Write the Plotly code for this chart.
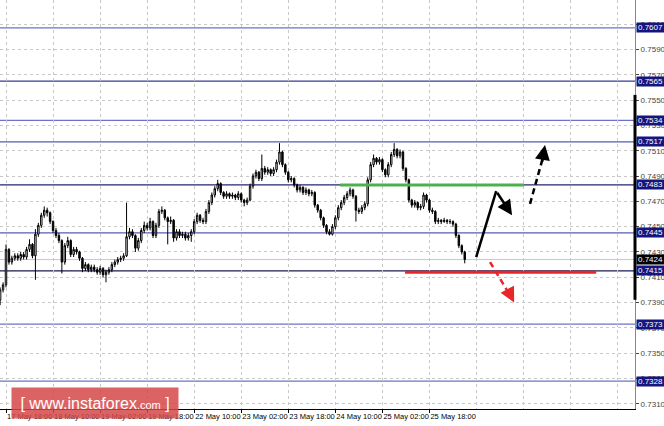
import plotly.graph_objects as go

# ---------------- data ----------------
bar_index = list(range(-2, 157))          # H1 bars, 0 = 17 May 18:00
first_open = 0.7392
closes = [
    0.7400, 0.7404, 0.7432, 0.7422, 0.7425, 0.7427, 0.7425, 0.7428, 0.7426, 0.7432, 0.7436, 0.7427,
    0.7444, 0.7451, 0.7459, 0.7463, 0.7461, 0.7454, 0.7447, 0.7443, 0.7439, 0.7422,
    0.7435, 0.7439, 0.7428, 0.7432, 0.7430, 0.7425, 0.7417, 0.7420, 0.7416, 0.7418,
    0.7416, 0.7414, 0.7417, 0.7412, 0.7414, 0.7416, 0.7420, 0.7422, 0.7424, 0.7425,
    0.7427, 0.7442, 0.7446, 0.7443, 0.7433, 0.7439, 0.7447, 0.7451, 0.7449, 0.7454,
    0.7443, 0.7451, 0.7462, 0.7463, 0.7457, 0.7454, 0.7455, 0.7441, 0.7446, 0.7443,
    0.7444, 0.7441, 0.7443, 0.7446, 0.7454, 0.7459, 0.7455, 0.7454, 0.7462, 0.7469,
    0.7475, 0.7480, 0.7484, 0.7477, 0.7474, 0.7476, 0.7474, 0.7475, 0.7473, 0.7476,
    0.7471, 0.7469, 0.7471, 0.7482, 0.7490, 0.7493, 0.7488, 0.7496, 0.7493, 0.7495,
    0.7492, 0.7495, 0.7501, 0.7509, 0.7499, 0.7493, 0.7487, 0.7488, 0.7483, 0.7479,
    0.7481, 0.7477, 0.7479, 0.7476, 0.7477, 0.7467, 0.7463, 0.7457, 0.7451, 0.7446,
    0.7444, 0.7450, 0.7457, 0.7465, 0.7469, 0.7473, 0.7476, 0.7479, 0.7474, 0.7463,
    0.7462, 0.7465, 0.7468, 0.7487, 0.7499, 0.7504, 0.7501, 0.7503, 0.7495, 0.7491,
    0.7499, 0.7507, 0.7511, 0.7506, 0.7509, 0.7496, 0.7487, 0.7471, 0.7467, 0.7469,
    0.7465, 0.7466, 0.7475, 0.7471, 0.7463, 0.7462, 0.7454, 0.7455, 0.7454, 0.7455,
    0.7454, 0.7454, 0.7452, 0.7443, 0.7435, 0.7430, 0.7424,
]
highs = [
    0.7402, 0.7406, 0.7436, 0.7433, 0.7427, 0.7429, 0.7429, 0.7430, 0.7430, 0.7434, 0.7440, 0.7437,
    0.7448, 0.7453, 0.7461, 0.7466, 0.7465, 0.7462, 0.7455, 0.7449, 0.7445, 0.7440,
    0.7437, 0.7442, 0.7440, 0.7434, 0.7434, 0.7431, 0.7426, 0.7422, 0.7421, 0.7420,
    0.7420, 0.7418, 0.7419, 0.7418, 0.7416, 0.7418, 0.7422, 0.7424, 0.7426, 0.7427,
    0.7429, 0.7469, 0.7449, 0.7448, 0.7444, 0.7441, 0.7449, 0.7454, 0.7453, 0.7457,
    0.7455, 0.7453, 0.7464, 0.7466, 0.7464, 0.7458, 0.7458, 0.7456, 0.7448, 0.7448,
    0.7446, 0.7446, 0.7445, 0.7448, 0.7456, 0.7461, 0.7460, 0.7457, 0.7464, 0.7471,
    0.7477, 0.7482, 0.7487, 0.7485, 0.7478, 0.7478, 0.7477, 0.7477, 0.7476, 0.7478,
    0.7477, 0.7472, 0.7473, 0.7484, 0.7492, 0.7495, 0.7494, 0.7507, 0.7498, 0.7497,
    0.7496, 0.7497, 0.7503, 0.7516, 0.7510, 0.7500, 0.7494, 0.7490, 0.7489, 0.7484,
    0.7483, 0.7482, 0.7481, 0.7480, 0.7479, 0.7478, 0.7468, 0.7464, 0.7458, 0.7452,
    0.7448, 0.7452, 0.7459, 0.7467, 0.7471, 0.7475, 0.7478, 0.7481, 0.7480, 0.7475,
    0.7465, 0.7467, 0.7470, 0.7489, 0.7501, 0.7507, 0.7505, 0.7505, 0.7504, 0.7496,
    0.7501, 0.7509, 0.7516, 0.7512, 0.7511, 0.7510, 0.7497, 0.7488, 0.7472, 0.7471,
    0.7470, 0.7468, 0.7477, 0.7476, 0.7472, 0.7465, 0.7463, 0.7457, 0.7456, 0.7457,
    0.7456, 0.7456, 0.7455, 0.7453, 0.7444, 0.7436, 0.7431,
]
lows = [
    0.7388, 0.7398, 0.7402, 0.7420, 0.7420, 0.7423, 0.7423, 0.7423, 0.7424, 0.7424, 0.7430, 0.7425,
    0.7408, 0.7442, 0.7449, 0.7457, 0.7458, 0.7452, 0.7445, 0.7441, 0.7437, 0.7413,
    0.7420, 0.7433, 0.7426, 0.7426, 0.7428, 0.7423, 0.7414, 0.7415, 0.7414, 0.7414,
    0.7414, 0.7412, 0.7412, 0.7410, 0.7406, 0.7412, 0.7414, 0.7418, 0.7420, 0.7422,
    0.7423, 0.7426, 0.7440, 0.7441, 0.7430, 0.7431, 0.7437, 0.7445, 0.7447, 0.7447,
    0.7441, 0.7441, 0.7449, 0.7460, 0.7455, 0.7436, 0.7452, 0.7438, 0.7439, 0.7441,
    0.7441, 0.7439, 0.7439, 0.7438, 0.7444, 0.7452, 0.7453, 0.7452, 0.7452, 0.7460,
    0.7467, 0.7473, 0.7478, 0.7475, 0.7472, 0.7472, 0.7472, 0.7472, 0.7471, 0.7471,
    0.7469, 0.7466, 0.7467, 0.7470, 0.7480, 0.7488, 0.7486, 0.7486, 0.7491, 0.7491,
    0.7490, 0.7490, 0.7493, 0.7499, 0.7497, 0.7491, 0.7485, 0.7485, 0.7481, 0.7477,
    0.7477, 0.7475, 0.7475, 0.7474, 0.7474, 0.7465, 0.7461, 0.7455, 0.7449, 0.7444,
    0.7443, 0.7443, 0.7448, 0.7455, 0.7463, 0.7467, 0.7471, 0.7474, 0.7472, 0.7454,
    0.7460, 0.7460, 0.7463, 0.7466, 0.7485, 0.7497, 0.7499, 0.7499, 0.7493, 0.7489,
    0.7489, 0.7497, 0.7505, 0.7504, 0.7504, 0.7494, 0.7485, 0.7469, 0.7465, 0.7465,
    0.7463, 0.7463, 0.7464, 0.7469, 0.7461, 0.7460, 0.7452, 0.7452, 0.7452, 0.7453,
    0.7452, 0.7452, 0.7450, 0.7441, 0.7433, 0.7428, 0.7421,
]
opens = [first_open] + closes[:-1]

tick_index = [0, 16, 32, 48, 64, 80, 96, 112, 128, 144]
tick_labels = ["17 May 18:00", "18 May 10:00", "19 May 02:00", "19 May 18:00",
               "22 May 10:00", "23 May 02:00", "23 May 18:00", "24 May 10:00",
               "25 May 02:00", "25 May 18:00"]
extra_grid_index = [160, 176, 192, 208]

price_ticks = [0.7310, 0.7330, 0.7350, 0.7370, 0.7390, 0.7410, 0.7430, 0.7450,
               0.7470, 0.7490, 0.7510, 0.7530, 0.7550, 0.7570, 0.7590, 0.7610]
price_tick_text = ["%.4f" % v for v in price_ticks]

levels = [0.7607, 0.7565, 0.7534, 0.7517, 0.7483, 0.7445, 0.7415, 0.7373, 0.7328]
level_colors = ["#7070c8", "#3a3a9a", "#7070c8", "#5a5ab8", "#24246e",
                "#5a5ab8", "#1a1a50", "#7070c8", "#7070c8"]
current_price = 0.7424

x_range = [-2.04, 213.9]
y_range = [0.73059, 0.76291]

fig = go.Figure()
fig.add_trace(go.Candlestick(
    x=bar_index, open=opens, high=highs, low=lows, close=closes,
    increasing=dict(line=dict(color="#000000", width=1), fillcolor="#ffffff"),
    decreasing=dict(line=dict(color="#000000", width=1), fillcolor="#000000"),
    whiskerwidth=0, hoverinfo="skip", showlegend=False,
))

shapes = []
shapes.append(dict(type="line", xref="paper", x0=0, x1=1, yref="y", y0=current_price, y1=current_price,
                   line=dict(color="#c8c8c8", width=1), layer="below"))
for lv, col in zip(levels, level_colors):
    shapes.append(dict(type="line", xref="paper", x0=0, x1=1, yref="y", y0=lv, y1=lv,
                       line=dict(color=col, width=1.2), layer="below"))
shapes.append(dict(type="line", xref="x", yref="y", x0=113.6, x1=176.2, y0=0.7483, y1=0.7483,
                   line=dict(color="#4cb050", width=3)))
shapes.append(dict(type="line", xref="x", yref="y", x0=135.7, x1=200.7, y0=0.7414, y1=0.7414,
                   line=dict(color="#e8262a", width=3)))
shapes.append(dict(type="line", xref="x", yref="y", x0=159.9, y0=0.7426, x1=166.7, y1=0.7478,
                   line=dict(color="#000000", width=2.5)))
shapes.append(dict(type="line", xref="x", yref="y", x0=178.2, y0=0.7468, x1=182.4, y1=0.7503,
                   line=dict(color="#000000", width=2.5, dash="6px,4px")))
shapes.append(dict(type="line", xref="x", yref="y", x0=164.6, y0=0.7422, x1=170.3, y1=0.7400,
                   line=dict(color="#e8262a", width=2.5, dash="6px,4px")))
shapes.append(dict(type="line", xref="paper", yref="paper", x0=1, x1=1, y0=0.267, y1=0.768,
                   line=dict(color="#000000", width=3)))

annotations = []
annotations.append(dict(x=172.1, y=0.7459, ax=166.7, ay=0.7478, xref="x", yref="y", axref="x", ayref="y",
                        text="", showarrow=True, arrowhead=2, arrowsize=1.2, arrowwidth=2.5, arrowcolor="#000000"))
annotations.append(dict(x=183.3, y=0.75145, ax=182.2, ay=0.7500, xref="x", yref="y", axref="x", ayref="y",
                        text="", showarrow=True, arrowhead=2, arrowsize=1.2, arrowwidth=2.5, arrowcolor="#000000"))
annotations.append(dict(x=172.8, y=0.7390, ax=170.6, ay=0.7400, xref="x", yref="y", axref="x", ayref="y",
                        text="", showarrow=True, arrowhead=2, arrowsize=1.2, arrowwidth=2.5, arrowcolor="#e8262a"))
for lv in levels:
    annotations.append(dict(x=1, xref="paper", xanchor="left", xshift=1, y=lv, yref="y", yanchor="middle",
                            text="%.4f" % lv, showarrow=False, bgcolor="#15157e",
                            font=dict(family="Liberation Sans", size=8, color="#ffffff"),
                            width=27, height=9, borderpad=0))
annotations.append(dict(x=1, xref="paper", xanchor="left", xshift=1, y=current_price, yref="y", yanchor="middle",
                        text="%.4f" % current_price, showarrow=False, bgcolor="#000000",
                        font=dict(family="Liberation Sans", size=8, color="#ffffff"),
                        width=27, height=9, borderpad=0))
annotations.append(dict(x=95 / 635, y=(409 - 403) / 409, xref="paper", yref="paper",
                        text="[ www.instaforex<span style='font-size:11px'>.com</span> ]",
                        showarrow=False, bgcolor="rgba(214,72,72,0.85)",
                        font=dict(family="Liberation Sans", size=16, color="#ffffff"),
                        width=166, height=30, borderpad=0, xanchor="center", yanchor="middle"))

fig.update_layout(
    width=664, height=426,
    margin=dict(l=0, r=29, t=0, b=17, autoexpand=False),
    paper_bgcolor="#ffffff", plot_bgcolor="#ffffff",
    shapes=shapes, annotations=annotations,
    xaxis=dict(range=x_range, rangeslider=dict(visible=False), fixedrange=True, automargin=False,
               tickmode="array", tickvals=tick_index, ticktext=tick_labels, tickangle=0,
               ticks="outside", ticklen=3, tickcolor="#000000",
               ticklabelposition="outside right",
               tickfont=dict(family="Liberation Sans", size=7.5, color="#000000"),
               showgrid=True, gridcolor="#c8c8c8", griddash="3px,3px", gridwidth=1,
               minor=dict(tickmode="array", tickvals=extra_grid_index, showgrid=True,
                          gridcolor="#c8c8c8", griddash="3px,3px", ticks=""),
               showline=True, linecolor="#000000", linewidth=1, zeroline=False),
    yaxis=dict(range=y_range, side="right", fixedrange=True, automargin=False,
               tickmode="array", tickvals=price_ticks, ticktext=price_tick_text,
               ticks="outside", ticklen=3, tickcolor="#444444",
               tickfont=dict(family="Liberation Sans", size=8, color="#444444"),
               showgrid=True, gridcolor="#c8c8c8", griddash="3px,3px", gridwidth=1,
               showline=True, linecolor="#888888", linewidth=1, zeroline=False),
)

fig.write_html("out.html", post_script="document.body.style.margin='0px';",
               config={"displayModeBar": False})
